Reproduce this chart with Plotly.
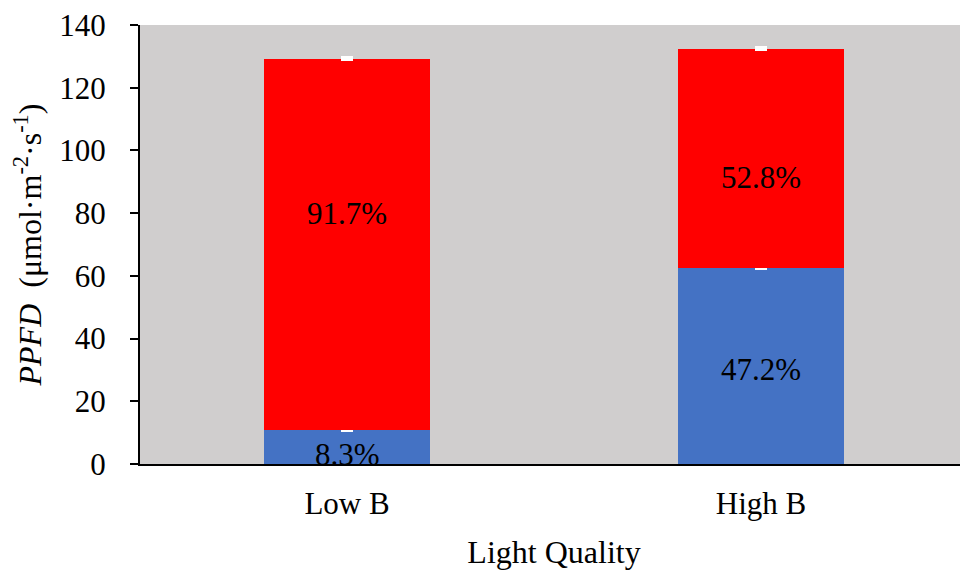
import plotly.graph_objects as go

categories = ["Low B", "High B"]
blue_values = [10.7, 62.4]
red_values = [118.4, 69.9]
blue_err = [0.4, 0.4]
red_err = [0.4, 0.4]
blue_labels = ["8.3%", "47.2%"]
red_labels = ["91.7%", "52.8%"]
blue_label_y = [3.0, 30.0]
red_label_y = [80.0, 91.5]
y_ticks = [0, 20, 40, 60, 80, 100, 120, 140]

FONT = "Liberation Serif, Times New Roman, serif"

fig = go.Figure()
fig.add_trace(go.Bar(
    x=categories, y=blue_values, marker=dict(color="#4472C4", line=dict(width=0)),
    error_y=dict(type="data", array=blue_err, arrayminus=[0, 0], color="white", thickness=4, width=6),
    showlegend=False,
))
fig.add_trace(go.Bar(
    x=categories, y=red_values, marker=dict(color="#FF0000", line=dict(width=0)),
    error_y=dict(type="data", array=red_err, arrayminus=[0, 0], color="white", thickness=4, width=6),
    showlegend=False,
))

for c, t, yy in zip(categories, blue_labels, blue_label_y):
    fig.add_annotation(x=c, y=yy, text=t, showarrow=False, font=dict(family=FONT, size=31, color="black"))
for c, t, yy in zip(categories, red_labels, red_label_y):
    fig.add_annotation(x=c, y=yy, text=t, showarrow=False, font=dict(family=FONT, size=31, color="black"))

fig.update_layout(
    barmode="stack",
    bargap=0.6,
    width=960, height=563,
    margin=dict(l=132, r=0, t=17, b=107),
    paper_bgcolor="white",
    plot_bgcolor="#D0CECE",
    font=dict(family=FONT, size=31, color="black"),
    xaxis=dict(
        showline=True, linecolor="black", linewidth=2,
        ticks="outside", ticklen=11, tickcolor="rgba(0,0,0,0)",
        title=dict(text="Light Quality", font=dict(size=32), standoff=20),
        tickfont=dict(size=31), automargin=False,
    ),
    yaxis=dict(
        range=[0, 140], tickvals=y_ticks, showgrid=False, zeroline=False,
        showline=True, linecolor="black", linewidth=2,
        ticks="outside", ticklen=8, tickwidth=2, tickcolor="black",
        ticklabelstandoff=18, ticklabeloverflow="allow",
        title=dict(text="<i>PPFD</i>&nbsp; (μmol·m<sup>-2</sup>·s<sup>-1</sup>)", font=dict(size=32), standoff=15),
        tickfont=dict(size=31), automargin=False,
    ),
)

fig.write_html("out.html")
